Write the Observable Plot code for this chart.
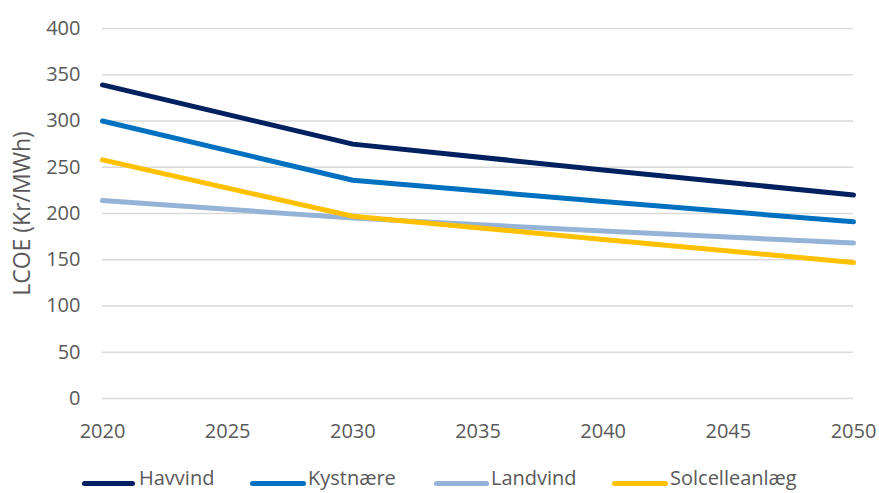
<!DOCTYPE html>
<html>
<head>
<meta charset="utf-8">
<script src="https://cdn.jsdelivr.net/npm/d3@7"></script>
<script src="https://cdn.jsdelivr.net/npm/@observablehq/plot@0.6"></script>
<style>
  html, body { margin: 0; padding: 0; background: #fff; overflow: hidden; }
  #wrap { position: relative; width: 879px; height: 493px; font-family: "Open Sans", "Noto Sans", sans-serif; }
  #legend { position: absolute; left: 0; top: 465px; width: 879px; height: 28px; }
  .swatch { position: absolute; top: 16px; height: 5px; border-radius: 3px; }
  .lbl { position: absolute; top: 3px; font-size: 20px; color: #595959; white-space: nowrap; line-height: 20px; }
</style>
</head>
<body>
<div id="wrap"><div id="chart"></div><div id="legend"></div></div>
<script>
const years = [2020, 2030, 2040, 2050];
const havvind = [339, 275, 247, 220];
const kystnaere = [300, 236, 213, 191];
const landvind = [214, 195, 181, 168];
const solcelle = [258, 197, 172, 147];
const seriesNames = ["Havvind", "Kystnære", "Landvind", "Solcelleanlæg"];
const seriesColors = ["#002060", "#0070C0", "#95B3D7", "#FFC000"];
const yTicks = [0, 50, 100, 150, 200, 250, 300, 350, 400];
const xTicks = [2020, 2025, 2030, 2035, 2040, 2045, 2050];
const yLabel = "LCOE (Kr/MWh)";

const seriesValues = [havvind, kystnaere, landvind, solcelle];
const data = [];
seriesNames.forEach((name, i) => {
  years.forEach((yr, j) => data.push({series: name, year: yr, value: seriesValues[i][j]}));
});

const H = 465;
const chart = Plot.plot({
  width: 879,
  height: H,
  marginLeft: 102,
  marginRight: 26,
  marginTop: 28,
  marginBottom: H - 398,
  style: {fontFamily: "'Open Sans', 'Noto Sans', sans-serif", fontSize: "20px", color: "#595959", background: "#fff"},
  x: {domain: [2020, 2050], label: null},
  y: {domain: [0, 400], label: null},
  color: {domain: seriesNames, range: seriesColors},
  marks: [
    Plot.ruleY(yTicks, {stroke: "#d9d9d9", strokeWidth: 1.4}),
    Plot.line(data, {x: "year", y: "value", z: "series", stroke: "series", strokeWidth: 5, strokeLinecap: "round", strokeLinejoin: "round"}),
    Plot.axisX({ticks: xTicks, tickFormat: d => String(d), tickSize: 0, tickPadding: 25, label: null, fontSize: 20}),
    Plot.axisY({ticks: yTicks, tickSize: 0, tickPadding: 22, label: null, fontSize: 20}),
    Plot.text([yLabel], {frameAnchor: "left", textAnchor: "middle", rotate: -90, dx: -80, fontSize: 23, fill: "#595959"})
  ]
});
document.getElementById("chart").appendChild(chart);

const legendPos = [[82, 53, 139], [250, 56, 308], [434, 55, 491], [612, 56, 670]];
const legend = document.getElementById("legend");
seriesNames.forEach((name, i) => {
  const [x, w, tx] = legendPos[i];
  const sw = document.createElement("div");
  sw.className = "swatch";
  sw.style.left = x + "px";
  sw.style.width = w + "px";
  sw.style.background = seriesColors[i];
  legend.appendChild(sw);
  const t = document.createElement("div");
  t.className = "lbl";
  t.style.left = tx + "px";
  t.textContent = name;
  legend.appendChild(t);
});
</script>
</body>
</html>
